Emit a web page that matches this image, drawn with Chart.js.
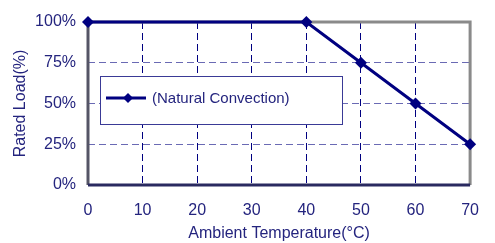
<!DOCTYPE html>
<html>
<head>
<meta charset="utf-8">
<script src="https://cdn.jsdelivr.net/npm/chart.js@4.4.0/dist/chart.umd.min.js"></script>
<style>
  html, body { margin: 0; padding: 0; background: #fff; }
  #wrap { width: 495px; height: 243px; }
</style>
</head>
<body>
<div id="wrap"><canvas id="derating" width="495" height="243"></canvas></div>
<script>
// data
const temps = [0, 40, 50, 60, 70];
const loads = [100, 100, 75, 50, 25];
const xTicks = [0, 10, 20, 30, 40, 50, 60, 70];
const yTicks = [0, 25, 50, 75, 100];
const seriesLabel = '(Natural Convection)';

const NAVY = '#000080';
const TEXT = '#24247e';
const FONT = '"Liberation Sans", Arial, sans-serif';

// frame: gray top/right, dark left/bottom like the original plot
const framePlugin = {
  id: 'frame',
  beforeDatasetsDraw(chart) {
    const { ctx, chartArea: a } = chart;
    ctx.save();
    ctx.lineWidth = 3;
    ctx.strokeStyle = '#8a8a8a';
    ctx.beginPath();
    ctx.moveTo(a.left, a.top);
    ctx.lineTo(a.right, a.top);
    ctx.lineTo(a.right, a.bottom);
    ctx.stroke();
    ctx.strokeStyle = '#555566';
    ctx.beginPath();
    ctx.moveTo(a.left, a.top);
    ctx.lineTo(a.left, a.bottom);
    ctx.stroke();
    ctx.strokeStyle = '#2a2a60';
    ctx.beginPath();
    ctx.moveTo(a.left, a.bottom);
    ctx.lineTo(a.right, a.bottom);
    ctx.stroke();
    ctx.restore();
  }
};

// boxed legend inside the plot, line + diamond sample
const boxLegend = {
  id: 'boxLegend',
  afterDatasetsDraw(chart) {
    const { ctx, chartArea: a } = chart;
    const x = a.left + 12, y = a.top + 54, w = 242, h = 48;
    ctx.save();
    ctx.fillStyle = '#fff';
    ctx.fillRect(x, y, w, h);
    ctx.strokeStyle = '#3a3a96';
    ctx.lineWidth = 1;
    ctx.strokeRect(x + 0.5, y + 0.5, w, h);
    const cy = y + 22;
    ctx.strokeStyle = NAVY;
    ctx.lineWidth = 3;
    ctx.beginPath();
    ctx.moveTo(x + 6, cy);
    ctx.lineTo(x + 46, cy);
    ctx.stroke();
    ctx.fillStyle = NAVY;
    ctx.beginPath();
    ctx.moveTo(x + 28, cy - 5);
    ctx.lineTo(x + 33, cy);
    ctx.lineTo(x + 28, cy + 5);
    ctx.lineTo(x + 23, cy);
    ctx.closePath();
    ctx.fill();
    ctx.fillStyle = TEXT;
    ctx.font = '15px ' + FONT;
    ctx.textBaseline = 'middle';
    ctx.fillText(chart.data.datasets[0].label, x + 52, cy + 1);
    ctx.restore();
  }
};

new Chart(document.getElementById('derating').getContext('2d'), {
  type: 'line',
  data: {
    datasets: [{
      label: seriesLabel,
      data: temps.map((t, i) => ({ x: t, y: loads[i] })),
      borderColor: NAVY,
      backgroundColor: NAVY,
      borderWidth: 3,
      pointStyle: 'rectRot',
      pointRadius: 6,
      pointBorderWidth: 0,
      tension: 0,
      clip: false
    }]
  },
  options: {
    responsive: false,
    animation: false,
    layout: { padding: { top: 22, right: 11, left: 0, bottom: 0 } },
    plugins: { legend: { display: false }, tooltip: { enabled: false } },
    scales: {
      x: {
        type: 'linear',
        min: 0, max: 70,
        afterBuildTicks: s => { s.ticks = xTicks.map(v => ({ value: v })); },
        afterFit: s => { s.height = 58; },
        grid: { color: NAVY, lineWidth: 1, drawTicks: false },
        border: { display: false, dash: [7, 4] },
        ticks: {
          color: TEXT, padding: 16,
          font: { family: FONT, size: 16 }
        },
        title: {
          display: true, text: 'Ambient Temperature(°C)', color: TEXT,
          padding: { top: 0, bottom: 0 },
          font: { family: FONT, size: 16 }
        }
      },
      y: {
        type: 'linear',
        min: 0, max: 100,
        afterBuildTicks: s => { s.ticks = yTicks.map(v => ({ value: v })); },
        afterFit: s => { s.width = 88; },
        grid: { color: '#6a6ab4', lineWidth: 1, drawTicks: false },
        border: { display: false, dash: [7, 4] },
        ticks: {
          color: TEXT, padding: 12,
          callback: v => v + '%',
          font: { family: FONT, size: 16 }
        },
        title: {
          display: true, text: 'Rated Load(%)', color: TEXT,
          padding: { top: 11, bottom: 0 },
          font: { family: FONT, size: 16 }
        }
      }
    }
  },
  plugins: [framePlugin, boxLegend]
});
</script>
</body>
</html>
